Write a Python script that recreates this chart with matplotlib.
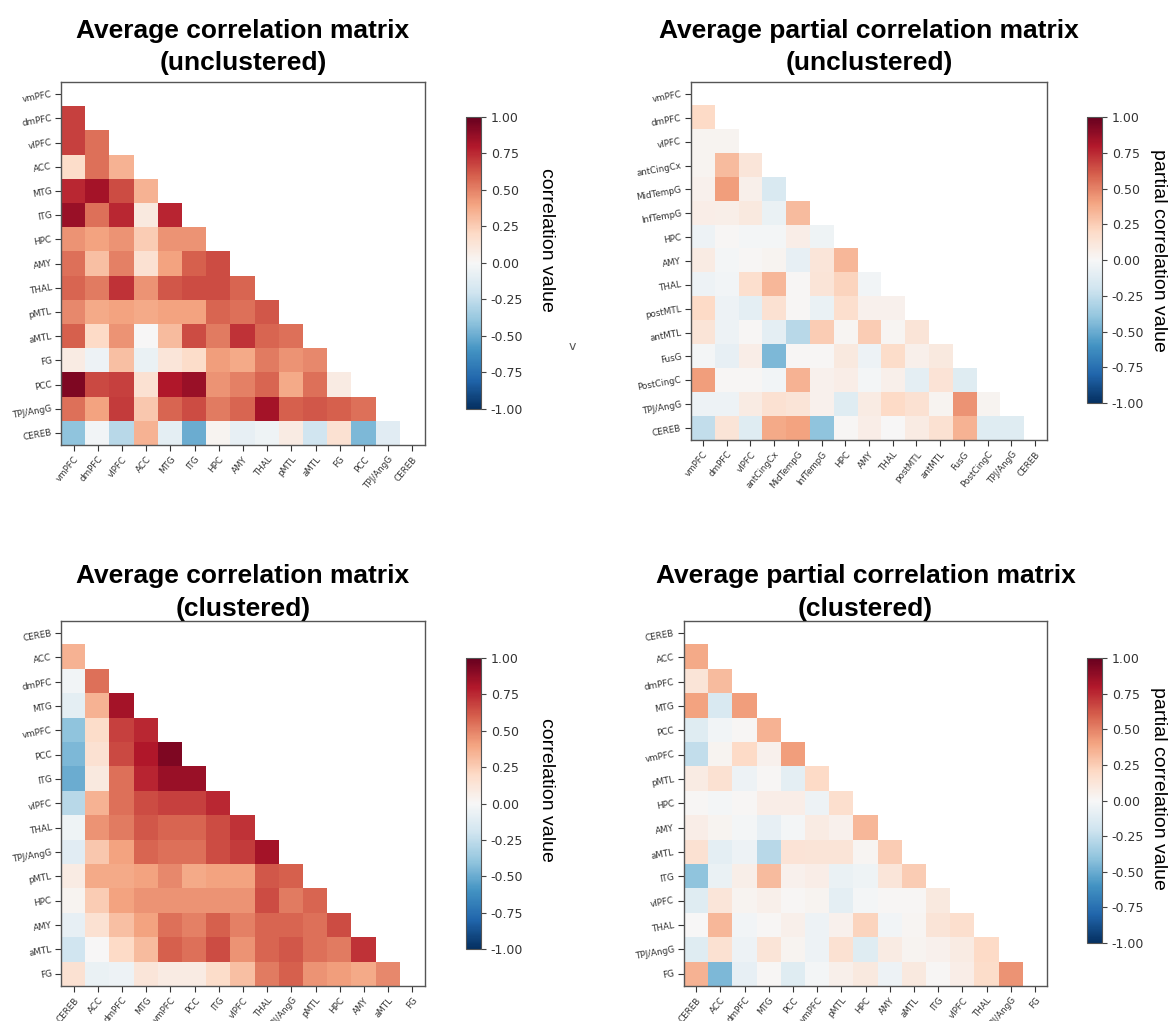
import numpy as np
import matplotlib
matplotlib.use("Agg")
import matplotlib.pyplot as plt

# ---- region names -------------------------------------------------------
corr_regions = ["vmPFC", "dmPFC", "vlPFC", "ACC", "MTG", "ITG", "HPC", "AMY",
                "THAL", "pMTL", "aMTL", "FG", "PCC", "TPJ/AngG", "CEREB"]
partial_names = ["vmPFC", "dmPFC", "vlPFC", "antCingCx", "MidTempG", "InfTempG",
                 "HPC", "AMY", "THAL", "postMTL", "antMTL", "FusG", "PostCingC",
                 "TPJ/AngG", "CEREB"]
corr_cluster_order = ["CEREB", "ACC", "dmPFC", "MTG", "vmPFC", "PCC", "ITG", "vlPFC",
                      "THAL", "TPJ/AngG", "pMTL", "HPC", "AMY", "aMTL", "FG"]
partial_cluster_order = ["CEREB", "ACC", "dmPFC", "MTG", "PCC", "vmPFC", "pMTL", "HPC",
                         "AMY", "aMTL", "ITG", "vlPFC", "THAL", "TPJ/AngG", "FG"]

# ---- average correlation (lower triangle, row i holds columns 0..i-1) ---
corr_lower = [
    [],
    [0.68],
    [0.68, 0.55],
    [0.18, 0.55, 0.35],
    [0.75, 0.83, 0.65, 0.35],
    [0.86, 0.55, 0.75, 0.10, 0.76],
    [0.45, 0.40, 0.45, 0.25, 0.45, 0.45],
    [0.55, 0.30, 0.50, 0.15, 0.40, 0.60, 0.65],
    [0.58, 0.52, 0.72, 0.45, 0.62, 0.65, 0.65, 0.58],
    [0.48, 0.38, 0.40, 0.38, 0.40, 0.40, 0.58, 0.55, 0.62],
    [0.60, 0.20, 0.45, 0.00, 0.32, 0.65, 0.52, 0.72, 0.58, 0.55],
    [0.08, -0.05, 0.30, -0.07, 0.12, 0.18, 0.42, 0.38, 0.52, 0.45, 0.48],
    [0.93, 0.66, 0.68, 0.15, 0.80, 0.86, 0.45, 0.50, 0.58, 0.38, 0.55, 0.08],
    [0.55, 0.40, 0.70, 0.27, 0.58, 0.65, 0.52, 0.58, 0.83, 0.60, 0.62, 0.60, 0.55],
    [-0.40, -0.03, -0.28, 0.35, -0.10, -0.50, 0.03, -0.08, -0.04, 0.08, -0.20, 0.15,
     -0.45, -0.11],
]

# ---- average partial correlation ----------------------------------------
partial_lower = [
    [],
    [0.20],
    [0.03, 0.03],
    [0.03, 0.32, 0.12],
    [0.04, 0.42, 0.05, -0.15],
    [0.07, 0.06, 0.10, -0.07, 0.32],
    [-0.05, 0.01, -0.02, -0.02, 0.07, -0.04],
    [0.08, -0.02, 0.01, 0.03, -0.08, 0.12, 0.33],
    [-0.05, -0.03, 0.17, 0.33, 0.01, 0.13, 0.22, -0.03],
    [0.20, -0.05, -0.10, 0.15, 0.01, -0.07, 0.17, 0.04, 0.04],
    [0.13, -0.05, 0.01, -0.10, -0.28, 0.25, 0.02, 0.25, 0.02, 0.13],
    [-0.02, -0.08, 0.07, -0.45, 0.01, 0.01, 0.10, -0.05, 0.18, 0.05, 0.10],
    [0.42, 0.01, 0.01, -0.03, 0.35, 0.04, 0.07, -0.02, 0.05, -0.10, 0.14, -0.12],
    [-0.05, -0.05, 0.08, 0.15, 0.13, 0.04, -0.12, 0.08, 0.20, 0.15, 0.03, 0.45, 0.03],
    [-0.25, 0.13, -0.12, 0.38, 0.40, -0.40, 0.01, 0.07, 0.00, 0.08, 0.15, 0.35,
     -0.12, -0.12],
]


def symmetric(lower):
    n = len(lower)
    m = np.eye(n)
    for i, row in enumerate(lower):
        for j, v in enumerate(row):
            m[i, j] = v
            m[j, i] = v
    return m


def masked_lower(m):
    out = m.astype(float).copy()
    out[np.triu_indices_from(out)] = np.nan
    return out


corr = symmetric(corr_lower)
partial = symmetric(partial_lower)

corr_idx = [corr_regions.index(r) for r in corr_cluster_order]
partial_idx = [corr_regions.index(r) for r in partial_cluster_order]
corr_clustered = corr[np.ix_(corr_idx, corr_idx)]
partial_clustered = partial[np.ix_(partial_idx, partial_idx)]

# ---- figure ---------------------------------------------------------------
W, H = 1172, 1021
fig = plt.figure(figsize=(W / 100, H / 100), dpi=100)


def box(x0, y0, x1, y1):
    return [x0 / W, 1 - y1 / H, (x1 - x0) / W, (y1 - y0) / H]


def draw_matrix(rect, mat, labels, title, pad):
    ax = fig.add_axes(box(*rect))
    im = ax.imshow(masked_lower(mat), cmap="RdBu_r", vmin=-1, vmax=1,
                   aspect="auto", interpolation="nearest")
    n = len(labels)
    ax.set_xticks(range(n))
    ax.set_yticks(range(n))
    ax.set_xticklabels(labels, rotation=50, ha="right", rotation_mode="anchor",
                       fontsize=6.3, color="#333333")
    ax.set_yticklabels(labels, rotation=10, ha="right", va="center",
                       rotation_mode="anchor", fontsize=6.3, color="#333333")
    ax.tick_params(length=4, width=0.8, color="#333333", pad=3)
    for s in ax.spines.values():
        s.set_color("#555555")
        s.set_linewidth(1.0)
    ax.set_title(title, fontsize=19, fontweight="bold", family="Liberation Sans",
                 pad=pad, linespacing=1.45)
    return im


def draw_colorbar(im, rect, label, label_xy):
    cax = fig.add_axes(box(*rect))
    cb = fig.colorbar(im, cax=cax)
    cb.set_ticks(np.arange(-1, 1.01, 0.25))
    cb.ax.yaxis.set_major_formatter(matplotlib.ticker.FormatStrFormatter("%.2f"))
    cb.ax.tick_params(labelsize=9, colors="#444444", length=3.5, width=0.8)
    for lab in cb.ax.get_yticklabels():
        lab.set_color("#333333")
    cb.outline.set_edgecolor("#555555")
    cb.outline.set_linewidth(0.8)
    fig.text(label_xy[0] / W, 1 - label_xy[1] / H, label, rotation=270,
             ha="center", va="center", fontsize=14, family="Liberation Sans")


im1 = draw_matrix((61.5, 82, 424.5, 445), corr, corr_regions,
                  "Average correlation matrix\n(unclustered)", 8.5)
im2 = draw_matrix((691, 82, 1047, 440), partial, partial_names,
                  "Average partial correlation matrix\n(unclustered)", 8.5)
im3 = draw_matrix((61.5, 621, 424.5, 986), corr_clustered, corr_cluster_order,
                  "Average correlation matrix\n(clustered)", 2.5)
im4 = draw_matrix((684, 621, 1047, 986), partial_clustered, partial_cluster_order,
                  "Average partial correlation matrix\n(clustered)", 2.5)

draw_colorbar(im1, (466, 117, 481, 409), "correlation value", (547, 240))
draw_colorbar(im2, (1087, 117, 1102, 403), "partial correlation value", (1158, 250))
draw_colorbar(im3, (466, 658, 481, 949), "correlation value", (547, 790))
draw_colorbar(im4, (1087, 658, 1102, 943), "partial correlation value", (1158, 788))

fig.text(572 / W, 1 - 347 / H, "v", ha="center", va="center", fontsize=9,
         color="#555555")

fig.savefig("out.png", dpi=100, facecolor="white")
